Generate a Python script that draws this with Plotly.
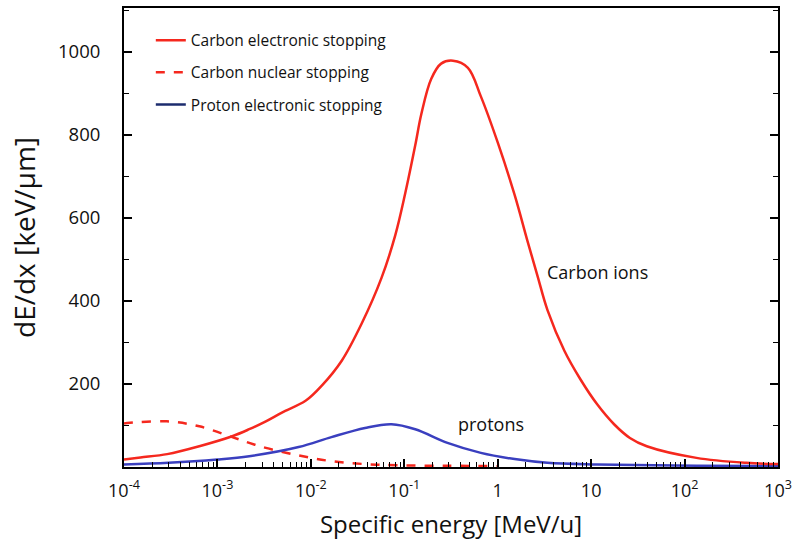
import plotly.graph_objects as go
import numpy as np

# Specific energy [MeV/u] and stopping power dE/dx [keV/um]
carbon_e_E = [1e-4, 1.5e-4, 2.9e-4, 6.4e-4, 1.44e-3, 2.19e-3, 3.3e-3, 4.9e-3, 8.85e-3, 1.31e-2,
              2.14e-2, 3.49e-2, 5.69e-2, 8.0e-2, 0.1025, 0.131, 0.152, 0.194, 0.248, 0.332,
              0.48, 0.66, 1.0, 1.52, 2.08, 2.67, 3.41, 5.17, 7.64, 11.6, 17.6, 26, 39.4,
              134, 457, 1000]
carbon_e_dEdx = [18, 23, 31, 50, 74, 91, 110, 131, 160, 196,
                 256, 345, 455, 558, 660, 775, 850, 935, 972, 979,
                 962, 893, 782, 655, 545, 460, 378, 280, 212, 151, 103, 70, 50,
                 22, 10, 7]

carbon_n_E = [1e-4, 1.08e-4, 2.87e-4, 6.4e-4, 1.44e-3, 2.19e-3, 3.3e-3, 7.4e-3, 1.66e-2, 3.8e-2,
              8.6e-2, 0.3, 1.0]
carbon_n_dEdx = [105, 106, 110, 98, 72, 58, 46, 28, 14, 7,
                 4, 3, 2]

proton_E = [1e-4, 3e-4, 1e-3, 2.19e-3, 7.4e-3, 1.66e-2, 3.8e-2, 7.3e-2, 0.131, 0.29,
            0.66, 1.52, 3.4, 11.6, 134, 1000]
proton_dEdx = [6, 10, 18, 26, 48, 72, 94, 103, 91, 58,
               34, 19, 10, 6, 3, 2]

xtick_vals = [1e-4, 1e-3, 1e-2, 1e-1, 1, 10, 100, 1000]
xtick_text = ["10<sup>-4</sup>", "10<sup>-3</sup>", "10<sup>-2</sup>", "10<sup>-1</sup>",
              "1", "10", "10<sup>2</sup>", "10<sup>3</sup>"]
ytick_vals = [200, 400, 600, 800, 1000]

RED = "#f5281e"
BLUE = "#3a3fbf"
NAVY = "#1c2c6e"
FONT = "Open Sans"

fig = go.Figure()
fig.add_trace(go.Scatter(x=carbon_n_E, y=carbon_n_dEdx, mode="lines",
                         line=dict(color=RED, width=2.5, dash="dash", shape="spline", smoothing=1.0), showlegend=False))
fig.add_trace(go.Scatter(x=proton_E, y=proton_dEdx, mode="lines",
                         line=dict(color=BLUE, width=2.5, shape="spline", smoothing=1.0), showlegend=False))
fig.add_trace(go.Scatter(x=carbon_e_E, y=carbon_e_dEdx, mode="lines",
                         line=dict(color=RED, width=2.5, shape="spline", smoothing=1.0), showlegend=False))

# legend entries
fig.add_trace(go.Scatter(x=[None], y=[None], mode="lines", line=dict(color=RED, width=2.5),
                         name="Carbon electronic stopping", legendgroup="a"))
fig.add_trace(go.Scatter(x=[None], y=[None], mode="lines", line=dict(color=RED, width=2.5, dash="dash"),
                         name="Carbon nuclear stopping", legendgroup="b"))
fig.add_trace(go.Scatter(x=[None], y=[None], mode="lines", line=dict(color=NAVY, width=2.5),
                         name="Proton electronic stopping", legendgroup="c"))

minor_x = [m * 10.0 ** k for k in range(-4, 3) for m in range(2, 10)]

fig.update_layout(
    width=798, height=556,
    margin=dict(l=124, r=16, t=6, b=89),
    paper_bgcolor="white", plot_bgcolor="white",
    font=dict(family=FONT, color="#111111"),
    showlegend=True,
    legend=dict(x=0.041, y=0.966, xanchor="left", yanchor="top", bgcolor="rgba(0,0,0,0)",
                font=dict(size=15.5, family=FONT), tracegroupgap=9, itemwidth=30),
    xaxis=dict(type="log", range=[-4, 3], tickmode="array", tickvals=xtick_vals, ticktext=xtick_text,
               ticks="inside", ticklen=8, tickwidth=1.5, tickcolor="black",
               showline=True, linecolor="black", linewidth=2, mirror=True,
               showgrid=False, zeroline=False, ticklabelstandoff=6,
               tickfont=dict(size=18, family=FONT),
               minor=dict(ticks="inside", ticklen=5, tickwidth=1, tickcolor="black", tickvals=minor_x, showgrid=False),
               title=dict(text="Specific energy [MeV/u]", font=dict(size=24, family=FONT), standoff=16)),
    yaxis=dict(range=[0, 1106], tickmode="array", tickvals=ytick_vals,
               ticks="inside", ticklen=8, tickwidth=1.5, tickcolor="black",
               showline=True, linecolor="black", linewidth=2, mirror="ticks",
               showgrid=False, zeroline=False, ticklabelstandoff=18,
               tickfont=dict(size=18.5, family=FONT),
               minor=dict(ticks="inside", ticklen=5, tickwidth=1, tickcolor="black", dtick=100, showgrid=False),
               title=dict(text="dE/dx [keV/μm]", font=dict(size=28, family=FONT), standoff=14)),
)

fig.add_annotation(x=np.log10(3.24), y=470, xref="x", yref="y", text="Carbon ions", showarrow=False,
                   xanchor="left", font=dict(size=18, family=FONT))
fig.add_annotation(x=np.log10(0.357), y=103, xref="x", yref="y", text="protons", showarrow=False,
                   xanchor="left", font=dict(size=18, family=FONT))

fig.write_html("out.html")
